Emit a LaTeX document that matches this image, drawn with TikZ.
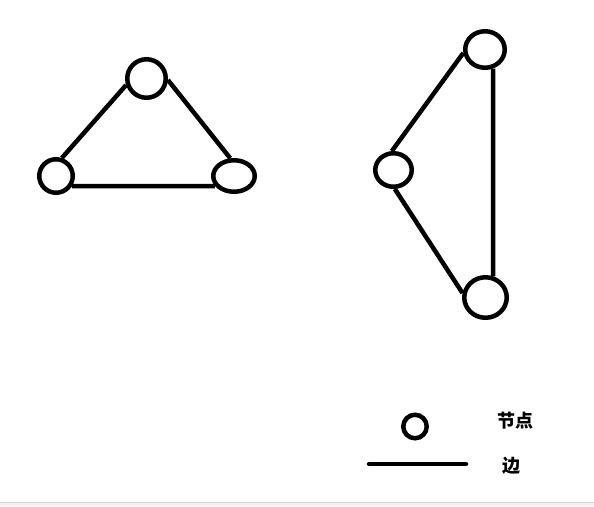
\documentclass[tikz,border=0pt]{standalone}
\usepackage{fontspec}
\usetikzlibrary{shapes.geometric}
\newfontfamily\cjk{Noto Sans CJK SC}

\begin{document}
\begin{tikzpicture}
        [
            x = 1pt, y = -1pt,
            vertex/.style  = {shape=ellipse, draw, line width=4.5pt, inner sep=0pt},
            link/.style    = {draw, line width=4.5pt},
            every node/.style = {font=\cjk\bfseries\fontsize{18}{18}\selectfont},
        ]
        \useasboundingbox (0,0) rectangle (594,506);
        \fill [gray!10] (0,503) rectangle (594,506);
        \draw [gray!35, line width=1pt] (0,502.5) -- (594,502.5);
        % left triangle
        \node [vertex, minimum width=38.5pt, minimum height=38.5pt] (lt) at (146.5,78.5) {};
        \node [vertex, minimum width=33.5pt, minimum height=33.5pt] (ll) at (56,176) {};
        \node [vertex, minimum width=41.5pt, minimum height=31.5pt] (lr) at (234,176) {};
        \draw [link] (ll.72) -- (lt.198);
        \draw [link] (lt.356) -- (lr.102);
        \draw [link] (ll.328) -- (lr.208);
        % right triangle
        \node [vertex, minimum width=39.5pt, minimum height=36.5pt] (rt) at (485,49.5) {};
        \node [vertex, minimum width=36.5pt, minimum height=33.5pt] (rm) at (393.5,170) {};
        \node [vertex, minimum width=42.5pt, minimum height=40.5pt] (rb) at (485.5,297.5) {};
        \draw [link] (rm.95) -- (rt.189);
        \draw [link] (rm.274) -- (rb.169);
        \draw [link] (rt.293) -- (rb.70);
        % legend
        \node [vertex, minimum width=23.5pt, minimum height=23.5pt] (key) at (415,426.5) {};
        \node (keytext) at (515.5,421) {节点};
        \coordinate (linea) at (369,464);
        \coordinate (lineb) at (466,464);
        \draw [link, line cap=round] (linea) -- (lineb);
        \node (linetext) at (511.5,466) {边};
    \end{tikzpicture}
\end{document}
